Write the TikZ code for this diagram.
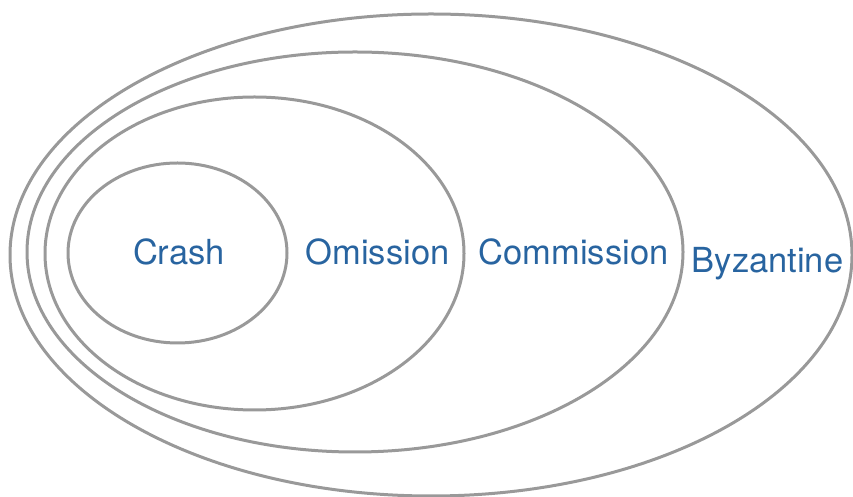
\documentclass[tikz,border=0pt]{standalone}
\usepackage{fontspec}
\setmainfont{TeX Gyre Heros}
\usepackage{tikz}
\usetikzlibrary{shapes.geometric}
\definecolor{ringgray}{RGB}{153,153,153}
\definecolor{faultblue}{RGB}{40,100,160}

\begin{document}
\begin{tikzpicture}[x=1pt,y=1pt,
		ring/.style={ellipse,draw=ringgray,line width=3pt,inner sep=0pt},
		fault/.style={anchor=base,text=faultblue,inner sep=0pt,font=\fontsize{34.5}{40}\selectfont}]
		\useasboundingbox (0,0) rectangle (853,497);
		% nested classes of failures
		\node[ring,minimum width=842pt,minimum height=482pt] (byzring)    at (431,242)   {};
		\node[ring,minimum width=656pt,minimum height=400pt] (comring)    at (355,245)   {};
		\node[ring,minimum width=419pt,minimum height=313pt] (omiring)    at (254.5,243.5) {};
		\node[ring,minimum width=219pt,minimum height=180pt] (crashring)  at (177.5,244) {};
		
		\node[fault] (crash)  at (179,232)   {Crash};
		\node[fault] (omi)    at (377.5,232) {Omission};
		\node[fault] (com)    at (573.5,232) {Commission};
		\node[fault] (byz)    at (767.5,224) {Byzantine};
\end{tikzpicture}
\end{document}
